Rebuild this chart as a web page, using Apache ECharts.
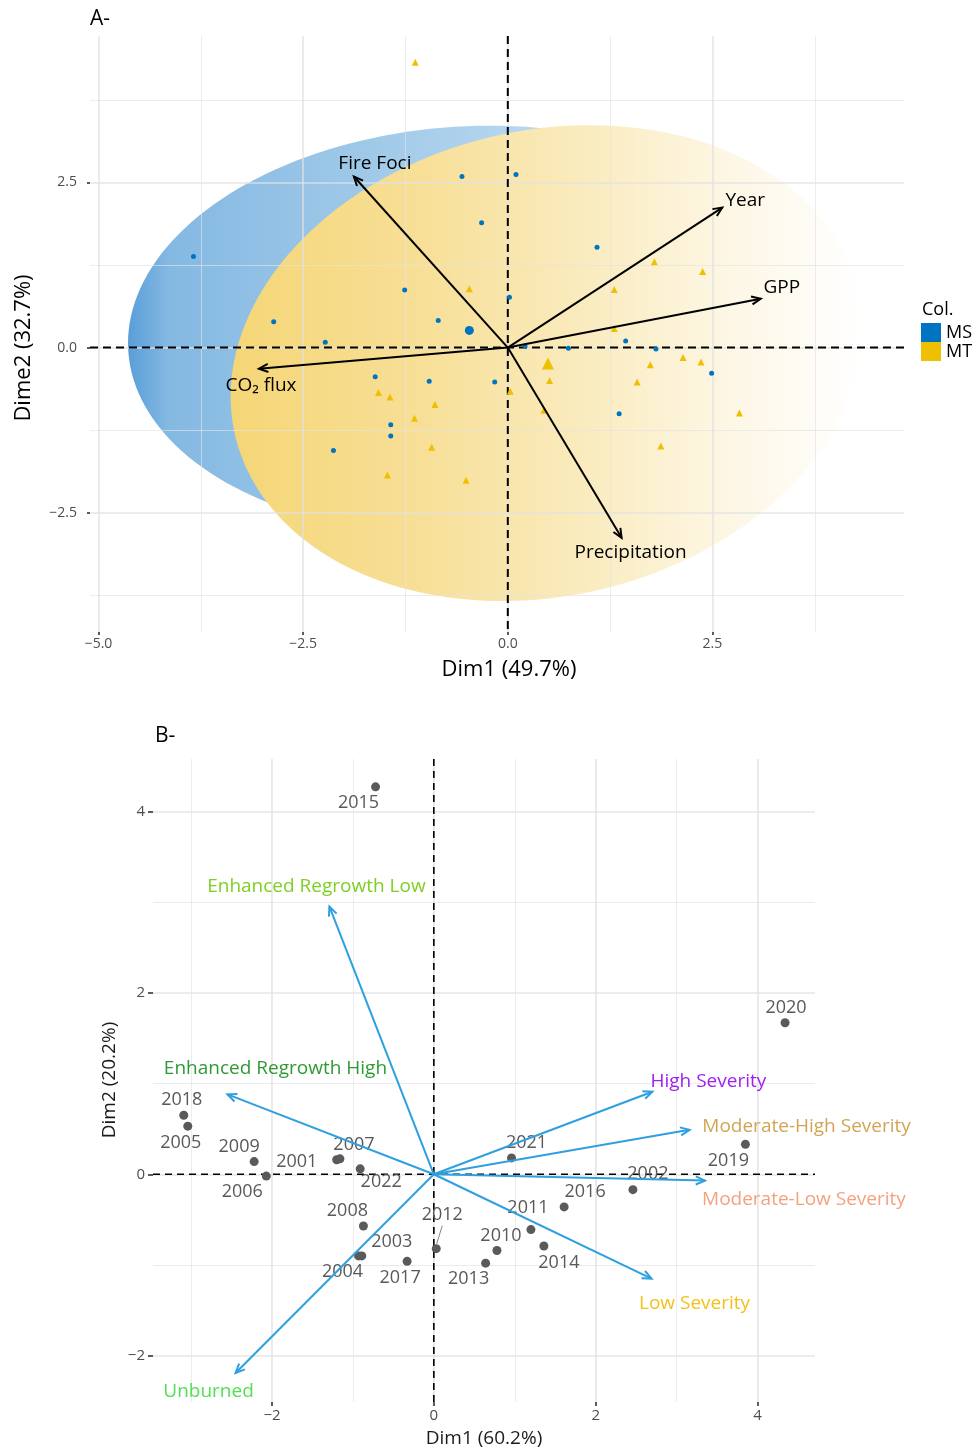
<!DOCTYPE html>
<html>
<head>
<meta charset="utf-8">
<script src="https://cdn.jsdelivr.net/npm/echarts@6/dist/echarts.min.js"></script>
<style>
  html, body { margin: 0; padding: 0; background: #ffffff; }
  #main { width: 978px; height: 1451px; }
</style>
</head>
<body>
<div id="main"></div>
<script>
// ---------- Panel A: PCA of fire and carbon variables, individuals by group ----------
const msPoints = [
  [-3.84, 1.38], [-0.56, 2.59], [-0.32, 1.89], [-1.26, 0.87], [-2.86, 0.39], [-0.85, 0.41],
  [-2.23, 0.08], [0.10, 2.62], [1.09, 1.52], [0.02, 0.76], [1.44, 0.10], [0.21, 0.02],
  [0.74, -0.01], [1.81, -0.02], [2.49, -0.39], [-0.16, -0.52], [1.36, -1.00], [-1.62, -0.44],
  [-0.96, -0.51], [-1.43, -1.17], [-1.43, -1.34], [-2.13, -1.56]
];
const mtPoints = [
  [-1.13, 4.32], [-0.47, 0.89], [1.79, 1.30], [2.38, 1.15], [1.30, 0.88], [1.30, 0.29],
  [2.14, -0.15], [2.36, -0.22], [1.74, -0.26], [0.51, -0.50], [1.58, -0.52], [0.03, -0.66],
  [0.44, -0.95], [2.83, -0.99], [1.87, -1.49], [-1.58, -0.68], [-1.44, -0.75], [-0.89, -0.86],
  [-1.14, -1.07], [-0.93, -1.51], [-1.47, -1.93], [-0.51, -2.01]
];
const msCentroid = [-0.47, 0.26];
const mtCentroid = [0.49, -0.24];
// concentration ellipses: centre x, centre y, semi-axis 1, semi-axis 2, rotation (degrees)
const msEllipse = [-0.48, 0.265, 4.17, 3.08, 6];
const mtEllipse = [0.47, -0.235, 4.01, 3.43, 32];
const varNamesA = ['Fire Foci', 'Year', 'GPP', 'CO\u2082 flux', 'Precipitation'];
const varLoadingsA = [[-1.88, 2.59], [2.62, 2.12], [3.09, 0.74], [-3.04, -0.32], [1.39, -2.88]];
const groupNames = ['MS', 'MT'];
const ticksAx = [-5, -2.5, 0, 2.5];
const ticksAy = [-2.5, 0, 2.5];
const minorAx = [-3.75, -1.25, 1.25, 3.75];
const minorAy = [-3.75, -1.25, 1.25, 3.75];

// ---------- Panel B: PCA of burn-severity classes, individuals = years ----------
const years = ['2001', '2002', '2003', '2004', '2005', '2006', '2007', '2008', '2009', '2010', '2011',
  '2012', '2013', '2014', '2015', '2016', '2017', '2018', '2019', '2020', '2021', '2022'];
const yearScores = [
  [-1.20, 0.16], [2.46, -0.17], [-0.89, -0.90], [-0.93, -0.90], [-3.04, 0.53], [-2.07, -0.02],
  [-1.16, 0.17], [-0.87, -0.57], [-2.22, 0.14], [0.78, -0.84], [1.20, -0.61], [0.03, -0.82],
  [0.64, -0.98], [1.36, -0.79], [-0.72, 4.27], [1.61, -0.36], [-0.33, -0.96], [-3.09, 0.65],
  [3.85, 0.33], [4.34, 1.67], [0.96, 0.18], [-0.91, 0.06]
];
const severityNames = ['Enhanced Regrowth Low', 'Enhanced Regrowth High', 'Unburned', 'High Severity',
  'Moderate-High Severity', 'Moderate-Low Severity', 'Low Severity'];
const severityLoadings = [[-1.29, 2.95], [-2.55, 0.88], [-2.45, -2.19], [2.70, 0.91],
  [3.16, 0.49], [3.35, -0.07], [2.69, -1.15]];
const ticksB = [-2, 0, 2, 4];
const minorBx = [-3, -1, 1, 3];
const minorBy = [-1, 1, 3];

// ---------- styling ----------
const fontFamily = "'Open Sans', 'Noto Sans', 'DejaVu Sans', sans-serif";
const groupColors = ['#0073C2', '#EFC000'];
const severityColors = ['#7ECF24', '#2F9A35', '#52DF52', '#A020F0', '#D2A556', '#F4A27E', '#F2C11C'];
const arrowBlue = '#2E9FDF';
const pointGrey = '#5A5A5A';
const gridMajor = 'rgba(224,224,224,0.85)';
const gridMinor = 'rgba(226,226,226,0.75)';
// label placement around arrow tips / points (pixels)
const varLabelShiftA = [[21, -13], [23, -7], [21, -11], [2, 17], [9, 15]];
const severityLabelShift = [[-13, -20], [48, -26], [-27, 19], [56, -10], [117, -3], [99, 19], [43, 25]];
const yearLabelShift = [[-40, 2], [15, -16], [30, -14], [-16, 16], [-7, 17], [-24, 16], [14, -14],
  [-16, -15], [-15, -15], [4, -15], [-3, -22], [6, -34], [-17, 16], [15, 17], [-17, 16], [21, -15],
  [-7, 17], [-2, -15], [-17, 17], [1, -15], [15, -15], [21, 13]];

const signed = (v, d) => (v < 0 ? '\u2212' : '') + Math.abs(v).toFixed(d);

function valueAxis(gridIndex, min, max, major, minor, dim, labelCfg) {
  const isX = dim === 'x';
  const main = {
    type: 'value', gridIndex, min, max, z: 1.5,
    position: isX ? 'bottom' : 'left',
    axisLine: { show: false, onZero: false },
    axisTick: { show: true, customValues: major, length: labelCfg.tickLen, lineStyle: { color: '#333333', width: 1.6 } },
    axisLabel: {
      show: true, customValues: major, margin: labelCfg.margin,
      formatter: v => signed(v, labelCfg.digits),
      color: '#4D4D4D', fontSize: labelCfg.fontSize, fontFamily
    },
    splitLine: { show: true, lineStyle: { color: gridMajor, width: 1.6 } }
  };
  const sub = {
    type: 'value', gridIndex, min, max, z: 1.5,
    position: isX ? 'bottom' : 'left',
    axisLine: { show: false, onZero: false },
    axisTick: { show: false, customValues: minor },
    axisLabel: { show: false },
    splitLine: { show: true, lineStyle: { color: gridMinor, width: 0.9 } }
  };
  return [main, sub];
}

const xA = valueAxis(0, -5.104, 4.84, ticksAx, minorAx, 'x', { tickLen: 3, margin: 5, digits: 1, fontSize: 14 });
const yA = valueAxis(0, -4.306, 4.717, ticksAy, minorAy, 'y', { tickLen: 3, margin: 13, digits: 1, fontSize: 14 });
const xB = valueAxis(1, -3.47, 4.71, ticksB, minorBx, 'x', { tickLen: 4, margin: 6, digits: 0, fontSize: 15 });
const yB = valueAxis(1, -2.51, 4.577, ticksB, minorBy, 'y', { tickLen: 5, margin: 8, digits: 0, fontSize: 15 });

function ellipseSeries(params, xi, yi, stops, name) {
  return {
    type: 'custom', name, xAxisIndex: xi, yAxisIndex: yi, z: 1, silent: true,
    data: [params],
    renderItem(p, api) {
      const cx = api.value(0), cy = api.value(1), a = api.value(2), b = api.value(3);
      const phi = api.value(4) * Math.PI / 180;
      const pts = [];
      for (let k = 0; k <= 180; k++) {
        const t = 2 * Math.PI * k / 180;
        const ex = cx + a * Math.cos(t) * Math.cos(phi) - b * Math.sin(t) * Math.sin(phi);
        const ey = cy + a * Math.cos(t) * Math.sin(phi) + b * Math.sin(t) * Math.cos(phi);
        pts.push(api.coord([ex, ey]));
      }
      return {
        type: 'polygon', shape: { points: pts },
        style: { fill: new echarts.graphic.LinearGradient(0, 0, 1, 0, stops), stroke: 'none' }
      };
    }
  };
}

function axesCross(xi, yi, width, dash) {
  return {
    type: 'custom', xAxisIndex: xi, yAxisIndex: yi, z: 2, silent: true,
    data: [[0, 0]],
    renderItem(p, api) {
      const o = api.coord([api.value(0), api.value(1)]);
      const cs = p.coordSys;
      const st = { stroke: '#000000', lineWidth: width, lineDash: dash, fill: 'none' };
      return {
        type: 'group', children: [
          { type: 'line', shape: { x1: cs.x, y1: o[1], x2: cs.x + cs.width, y2: o[1] }, style: st },
          { type: 'line', shape: { x1: o[0], y1: cs.y, x2: o[0], y2: cs.y + cs.height }, style: st }
        ]
      };
    }
  };
}

function arrowSeries(xi, yi, tips, names, shifts, color, textColors, fontSize) {
  return {
    type: 'custom', xAxisIndex: xi, yAxisIndex: yi, z: 6, silent: true,
    data: tips.map((t, i) => [t[0], t[1], i]),
    renderItem(p, api) {
      const i = api.value(2);
      const o = api.coord([0, 0]);
      const q = api.coord([api.value(0), api.value(1)]);
      const ang = Math.atan2(q[1] - o[1], q[0] - o[0]);
      const L = 10, w = Math.PI / 7.5;
      const h1 = [q[0] - L * Math.cos(ang - w), q[1] - L * Math.sin(ang - w)];
      const h2 = [q[0] - L * Math.cos(ang + w), q[1] - L * Math.sin(ang + w)];
      const s = shifts[i];
      return {
        type: 'group', children: [
          { type: 'line', shape: { x1: o[0], y1: o[1], x2: q[0], y2: q[1] }, style: { stroke: color, lineWidth: 2, fill: 'none' } },
          { type: 'polyline', shape: { points: [h1, q, h2] }, style: { stroke: color, lineWidth: 2, fill: 'none' } },
          {
            type: 'text', x: q[0] + s[0], y: q[1] + s[1],
            style: { text: names[i], fill: textColors[i], fontSize, fontFamily, align: 'center', verticalAlign: 'middle' }
          }
        ]
      };
    }
  };
}

const chart = echarts.init(document.getElementById('main'), null, { renderer: 'canvas' });

chart.setOption({
  animation: false,
  backgroundColor: '#ffffff',
  textStyle: { fontFamily },
  grid: [
    { left: 90, top: 36, width: 814, height: 596, outerBoundsMode: 'none' },
    { left: 153, top: 759, width: 662, height: 643, outerBoundsMode: 'none' }
  ],
  xAxis: [xA[0], xA[1], xB[0], xB[1]],
  yAxis: [yA[0], yA[1], yB[0], yB[1]],
  legend: {
    data: groupNames, orient: 'vertical', left: 921, top: 323, padding: 0,
    itemWidth: 20, itemHeight: 19, itemGap: 0, icon: 'rect', selectedMode: false,
    textStyle: { fontSize: 18, color: '#000000', fontFamily, lineHeight: 19 }
  },
  graphic: [
    { type: 'text', x: 90, y: 19, style: { text: 'A-', fontSize: 21, fill: '#000', fontFamily, verticalAlign: 'middle' } },
    { type: 'text', x: 155, y: 736, style: { text: 'B-', fontSize: 21, fill: '#000', fontFamily, verticalAlign: 'middle' } },
    { type: 'text', x: 922, y: 310, style: { text: 'Col.', fontSize: 18, fill: '#000', fontFamily, verticalAlign: 'middle' } },
    { type: 'text', x: 509, y: 670, style: { text: 'Dim1 (49.7%)', fontSize: 22, fill: '#000', fontFamily, align: 'center', verticalAlign: 'middle' } },
    { type: 'text', x: 24, y: 348, rotation: Math.PI / 2, style: { text: 'Dime2 (32.7%)', fontSize: 22, fill: '#000', fontFamily, align: 'center', verticalAlign: 'middle' } },
    { type: 'text', x: 484, y: 1439, style: { text: 'Dim1 (60.2%)', fontSize: 19, fill: '#1a1a1a', fontFamily, align: 'center', verticalAlign: 'middle' } },
    { type: 'text', x: 110, y: 1080, rotation: Math.PI / 2, style: { text: 'Dim2 (20.2%)', fontSize: 19, fill: '#1a1a1a', fontFamily, align: 'center', verticalAlign: 'middle' } }
  ],
  series: [
    // Panel A
    ellipseSeries(msEllipse, 0, 0, [
      { offset: 0, color: '#5A9ED8' }, { offset: 0.06, color: '#84B9E2' }, { offset: 0.25, color: '#96C3E6' },
      { offset: 0.55, color: '#B3D5EE' }, { offset: 1, color: '#DCEBF7' }
    ], 'MS ellipse'),
    ellipseSeries(mtEllipse, 0, 0, [
      { offset: 0, color: '#F5D676' }, { offset: 0.3, color: '#F7DF97' }, { offset: 0.55, color: '#FAEBBD' },
      { offset: 0.8, color: '#FDF7E6' }, { offset: 1, color: '#FFFFFF' }
    ], 'MT ellipse'),
    axesCross(0, 0, 2, [8, 5]),
    {
      type: 'scatter', name: 'MS', xAxisIndex: 0, yAxisIndex: 0, z: 4, silent: true,
      symbol: 'circle', symbolSize: 5, itemStyle: { color: groupColors[0], opacity: 1 }, data: msPoints
    },
    {
      type: 'scatter', name: 'MT', xAxisIndex: 0, yAxisIndex: 0, z: 4, silent: true,
      symbol: 'triangle', symbolSize: 7, itemStyle: { color: groupColors[1], opacity: 1 }, data: mtPoints
    },
    {
      type: 'scatter', name: 'MS mean', xAxisIndex: 0, yAxisIndex: 0, z: 4, silent: true,
      symbol: 'circle', symbolSize: 9, itemStyle: { color: groupColors[0], opacity: 1 }, data: [msCentroid]
    },
    {
      type: 'scatter', name: 'MT mean', xAxisIndex: 0, yAxisIndex: 0, z: 4, silent: true,
      symbol: 'triangle', symbolSize: 12, itemStyle: { color: groupColors[1], opacity: 1 }, data: [mtCentroid]
    },
    arrowSeries(0, 0, varLoadingsA, varNamesA, varLabelShiftA, '#000000',
      varNamesA.map(() => '#000000'), 19),

    // Panel B
    axesCross(2, 2, 1.6, [7, 5]),
    arrowSeries(2, 2, severityLoadings, severityNames, severityLabelShift, arrowBlue, severityColors, 19),
    {
      type: 'scatter', name: 'Years', xAxisIndex: 2, yAxisIndex: 2, z: 5, silent: true,
      symbol: 'circle', symbolSize: 9, itemStyle: { color: pointGrey, opacity: 1 },
      data: years.map((y, i) => ({ name: y, value: yearScores[i], label: { offset: yearLabelShift[i] } })),
      label: { show: true, position: 'inside', formatter: '{b}', color: '#595959', fontSize: 18, fontFamily }
    },
    {
      // leader segment for a displaced year label
      type: 'custom', xAxisIndex: 2, yAxisIndex: 2, z: 5, silent: true,
      data: [[yearScores[11][0], yearScores[11][1]]],
      renderItem(p, api) {
        const q = api.coord([api.value(0), api.value(1)]);
        return { type: 'line', shape: { x1: q[0] + 6, y1: q[1] - 23, x2: q[0] + 0.5, y2: q[1] - 5 },
          style: { stroke: '#666666', lineWidth: 0.8, fill: 'none' } };
      }
    }
  ]
});
</script>
</body>
</html>
